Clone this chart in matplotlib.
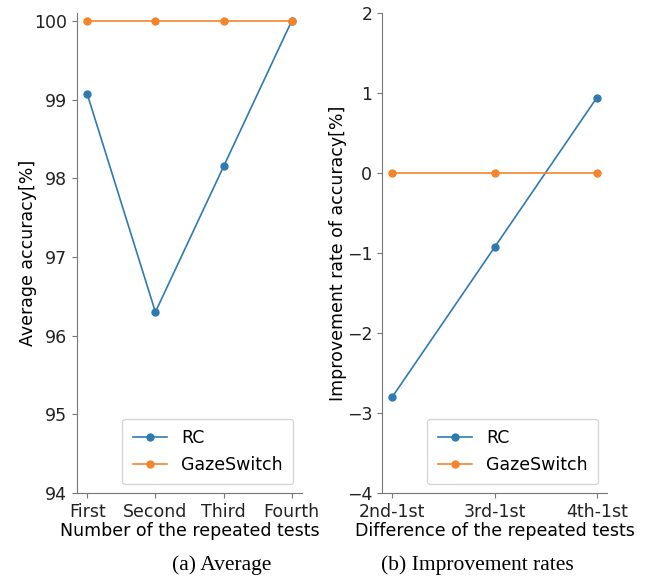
import matplotlib
matplotlib.use("Agg")
import matplotlib.pyplot as plt

tests = ["First", "Second", "Third", "Fourth"]
rc_avg = [99.07, 96.30, 98.15, 100.0]
gaze_avg = [100.0, 100.0, 100.0, 100.0]

diffs = ["2nd-1st", "3rd-1st", "4th-1st"]
rc_rate = [-2.80, -0.93, 0.94]
gaze_rate = [0.0, 0.0, 0.0]

plt.rcParams["font.family"] = "DejaVu Sans"
fs = 12.5

fig = plt.figure(figsize=(6.48, 5.78), dpi=100)
ax1 = fig.add_axes([77 / 648, 85 / 578, 225 / 648, 480 / 578])
ax2 = fig.add_axes([382 / 648, 85 / 578, 225 / 648, 480 / 578])


def style(ax):
    for s in ["top", "right"]:
        ax.spines[s].set_visible(False)
    for s in ["left", "bottom"]:
        ax.spines[s].set_color("#777777")
    ax.tick_params(colors="#777777", labelcolor="#222222", labelsize=fs)


ax1.plot(tests, rc_avg, marker="o", markersize=5, lw=1.2, color="#2f7bb0", label="RC")
ax1.plot(tests, gaze_avg, marker="o", markersize=5, lw=1.2, color="#f5842a", label="GazeSwitch")
ax1.set_ylim(94, 100.1)
ax1.set_yticks([94, 95, 96, 97, 98, 99, 100])
ax1.set_ylabel("Average accuracy[%]", fontsize=fs, labelpad=-2)
ax1.set_xlabel("Number of the repeated tests", fontsize=fs, labelpad=1)
ax1.legend(loc="lower right", fontsize=fs, borderpad=0.6)
style(ax1)

ax2.plot(diffs, rc_rate, marker="o", markersize=5, lw=1.2, color="#2f7bb0", label="RC")
ax2.plot(diffs, gaze_rate, marker="o", markersize=5, lw=1.2, color="#f5842a", label="GazeSwitch")
ax2.set_ylim(-4, 2)
ax2.set_yticks([-4, -3, -2, -1, 0, 1, 2])
ax2.set_ylabel("Improvement rate of accuracy[%]", fontsize=fs, labelpad=0)
ax2.set_xlabel("Difference of the repeated tests", fontsize=fs, labelpad=1)
ax2.legend(loc="lower right", fontsize=fs, borderpad=0.6)
style(ax2)

fig.text(222 / 648, 1 - 565 / 578, "(a) Average", family="Liberation Serif",
         fontsize=15.5, ha="center", va="center")
fig.text(477 / 648, 1 - 565 / 578, "(b) Improvement rates", family="Liberation Serif",
         fontsize=15.5, ha="center", va="center")

fig.savefig("out.png", dpi=100)
